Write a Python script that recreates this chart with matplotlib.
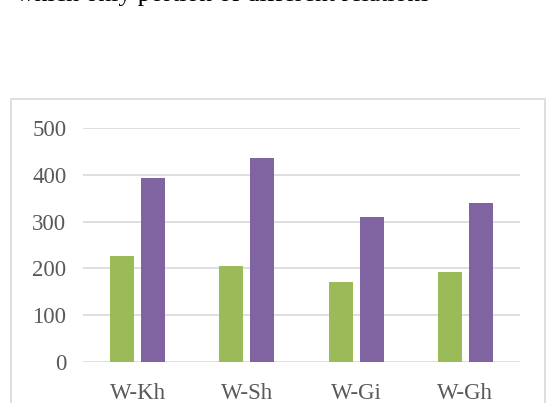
import matplotlib.pyplot as plt
from matplotlib.patches import Rectangle
import numpy as np

categories = ["W-Kh", "W-Sh", "W-Gi", "W-Gh"]
green_vals = [227, 204, 171, 192]
purple_vals = [393, 436, 309, 340]
yticks = [0, 100, 200, 300, 400, 500]

plt.rcParams["font.family"] = ["Liberation Serif", "DejaVu Serif"]

fig = plt.figure(figsize=(5.47, 4.03), dpi=100)

# cut-off caption line from the page above the chart
fig.text(16 / 547, 1 - 1 / 403, "which only portion of different relations",
         fontsize=18.5, va="baseline", ha="left", color="black")

# chart frame
fig.patches.append(Rectangle((11 / 547, -0.05), 534 / 547, 1 - 99 / 403 + 0.05,
                             transform=fig.transFigure, fill=False,
                             edgecolor="#D9D9D9", linewidth=1.2))

ax = fig.add_axes([83 / 547, 1 - 361.7 / 403, 437 / 547, 233.4 / 403])
x = np.arange(len(categories))
ax.bar(x - 0.142, green_vals, width=0.22, color="#9BBB59", zorder=3)
ax.bar(x + 0.142, purple_vals, width=0.22, color="#8064A2", zorder=3)

ax.set_xlim(-0.5, 3.5)
ax.set_ylim(0, 500)
ax.set_yticks(yticks)
ax.set_xticks(x)
ax.set_xticklabels(categories)
ax.grid(axis="y", color="#D9D9D9", linewidth=1.2, zorder=0)
for s in ax.spines.values():
    s.set_visible(False)
ax.tick_params(length=0, labelsize=16.5, colors="#595959")
ax.tick_params(axis="x", pad=15)
ax.tick_params(axis="y", pad=12)

fig.savefig("out.png", dpi=100)
